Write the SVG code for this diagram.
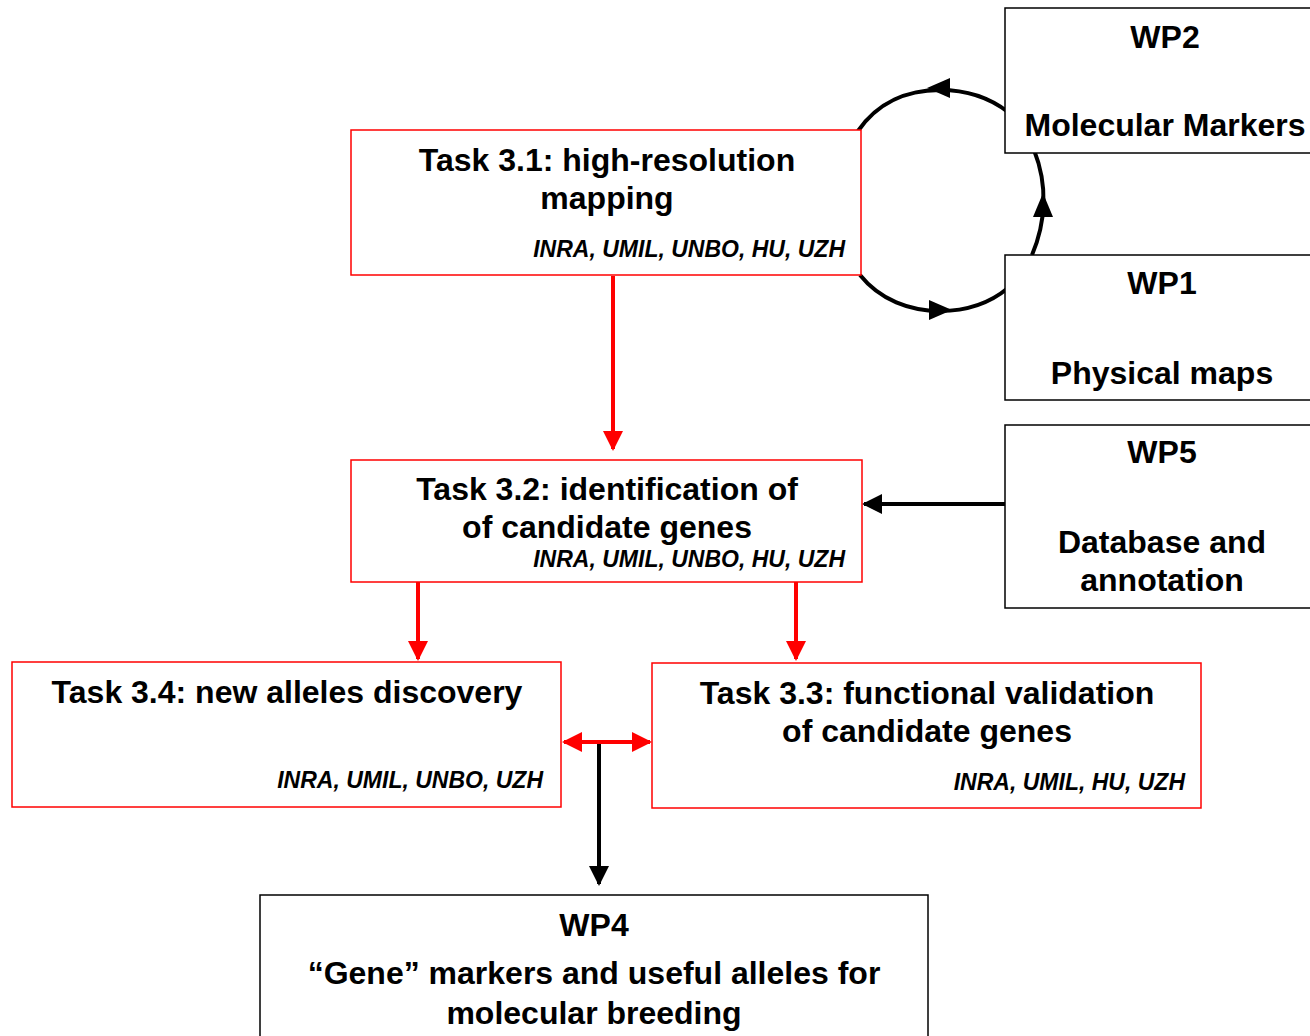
<svg xmlns="http://www.w3.org/2000/svg" width="1310" height="1036" viewBox="0 0 1310 1036">
<style>
.task{fill:#fff;stroke:#ff0000;stroke-width:1.5}
.wp{fill:#fff;stroke:#000;stroke-width:1.5}
.t{font-family:"Liberation Sans",Arial,sans-serif;font-weight:bold;font-size:32px;fill:#000;text-anchor:middle}
.p{font-family:"Liberation Sans",Arial,sans-serif;font-weight:bold;font-style:italic;font-size:23px;fill:#000;text-anchor:end}
.red{stroke:#ff0000;stroke-width:4;fill:none}
.blk{stroke:#000;stroke-width:4;fill:none}
</style>
<defs>
<marker id="ar" viewBox="0 0 10 10" refX="9" refY="5" markerWidth="5" markerHeight="5" orient="auto-start-reverse" markerUnits="strokeWidth"><path d="M0,0 L10,5 L0,10 z" fill="#ff0000"/></marker>
<marker id="ab" viewBox="0 0 10 10" refX="9" refY="5" markerWidth="5" markerHeight="5" orient="auto-start-reverse" markerUnits="strokeWidth"><path d="M0,0 L10,5 L0,10 z" fill="#000"/></marker>
</defs>
<g id="connectors">
<path d="M858,131 C878,102 908,90 940,90 C966,90 990,98 1008,112" class="blk"/>
<path d="M860,275 C880,300 910,311 940,311 C966,311 990,303 1008,288" class="blk"/>
<path d="M1032,255 C1046,222 1048,185 1034,150" class="blk"/>
<polygon points="927,88 950,78 950,98" fill="#000"/>
<polygon points="952,310 929,300 929,320" fill="#000"/>
<polygon points="1043,193 1033,217 1053,217" fill="#000"/>
<line x1="613" y1="276" x2="613" y2="449" class="red" marker-end="url(#ar)"/>
<line x1="1005" y1="504" x2="864" y2="504" class="blk" marker-end="url(#ab)"/>
<line x1="418" y1="582" x2="418" y2="659" class="red" marker-end="url(#ar)"/>
<line x1="796" y1="582" x2="796" y2="659" class="red" marker-end="url(#ar)"/>
<line x1="564" y1="742" x2="650" y2="742" class="red" marker-start="url(#ar)" marker-end="url(#ar)"/>
<line x1="599" y1="744" x2="599" y2="884" class="blk" marker-end="url(#ab)"/>
</g>
<g id="wp2"><rect class="wp" x="1005" y="8" width="320" height="145"/>
<text class="t" x="1165" y="48">WP2</text><text class="t" x="1165" y="136">Molecular Markers</text></g>
<g id="wp1"><rect class="wp" x="1005" y="255" width="320" height="145"/>
<text class="t" x="1162" y="294">WP1</text><text class="t" x="1162" y="384">Physical maps</text></g>
<g id="wp5"><rect class="wp" x="1005" y="425" width="320" height="183"/>
<text class="t" x="1162" y="463">WP5</text><text class="t" x="1162" y="553">Database and</text><text class="t" x="1162" y="591">annotation</text></g>
<g id="task31"><rect class="task" x="351" y="130" width="510" height="145"/>
<text class="t" x="607" y="171">Task 3.1: high-resolution</text><text class="t" x="607" y="209">mapping</text>
<text class="p" x="845" y="257">INRA, UMIL, UNBO, HU, UZH</text></g>
<g id="task32"><rect class="task" x="351" y="460" width="511" height="122"/>
<text class="t" x="607" y="500">Task 3.2: identification of</text><text class="t" x="607" y="538">of candidate genes</text>
<text class="p" x="845" y="567">INRA, UMIL, UNBO, HU, UZH</text></g>
<g id="task34"><rect class="task" x="12" y="662" width="549" height="145"/>
<text class="t" x="287" y="703">Task 3.4: new alleles discovery</text>
<text class="p" x="543" y="788">INRA, UMIL, UNBO, UZH</text></g>
<g id="task33"><rect class="task" x="652" y="663" width="549" height="145"/>
<text class="t" x="927" y="704">Task 3.3: functional validation</text><text class="t" x="927" y="742">of candidate genes</text>
<text class="p" x="1185" y="790">INRA, UMIL, HU, UZH</text></g>
<g id="wp4"><rect class="wp" x="260" y="895" width="668" height="160"/>
<text class="t" x="594" y="936">WP4</text><text class="t" x="594" y="984">“Gene” markers and useful alleles for</text><text class="t" x="594" y="1024">molecular breeding</text></g>
</svg>
